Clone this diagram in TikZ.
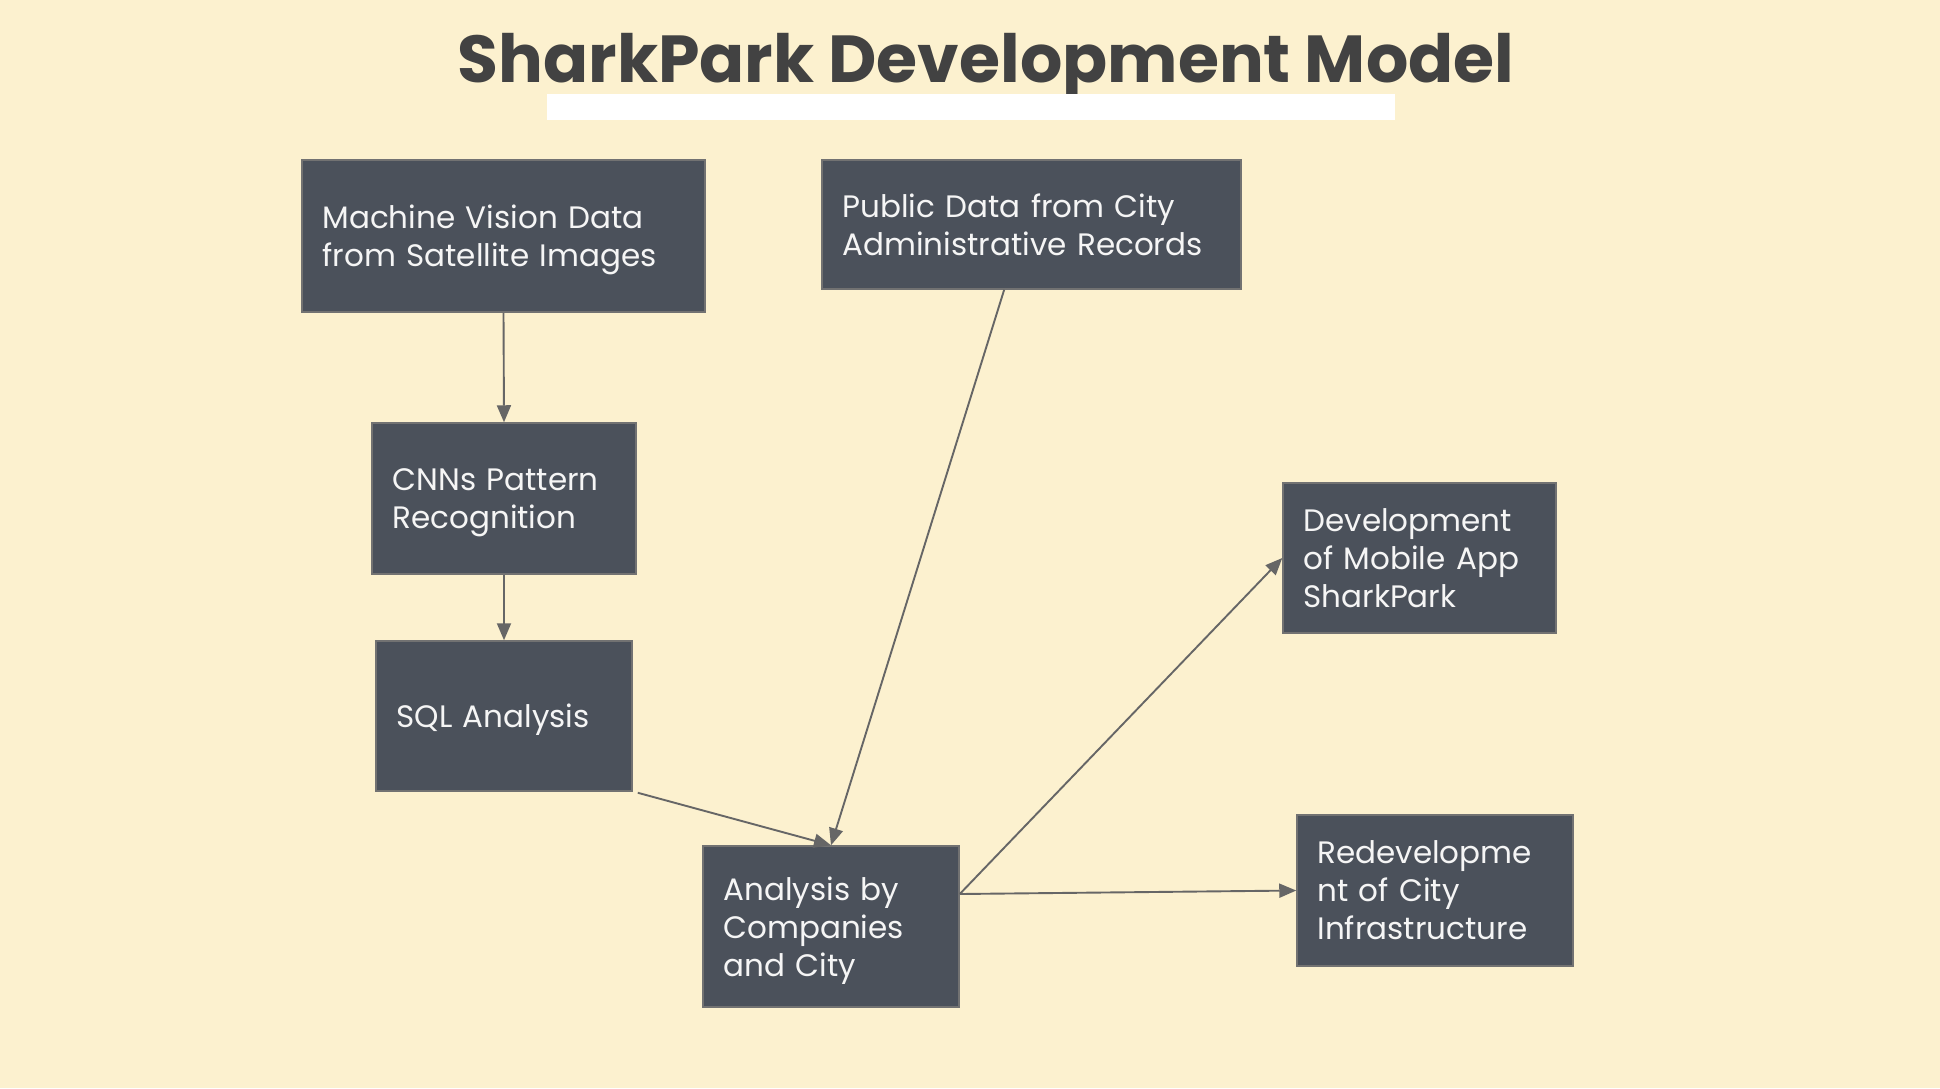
\documentclass[tikz,border=0pt]{standalone}
\usepackage{fontspec}
\setmainfont{Poppins}
\usetikzlibrary{arrows.meta,calc}
\definecolor{bgc}{HTML}{FCF1CF}
\definecolor{boxc}{HTML}{4B515B}
\definecolor{edgec}{HTML}{727272}
\definecolor{titlec}{HTML}{424242}
\definecolor{arrc}{HTML}{666666}
\newcommand{\nodesc}[1]{\raisebox{0pt}[\height][0pt]{#1}}
\tikzset{
  stepbox/.style={draw=edgec, line width=1.5pt, fill=boxc, text=white!96!black,
    align=left, inner xsep=20.5pt, inner ysep=0pt, anchor=center,
    font=\fontsize{31}{38}\selectfont},
  conn/.style={draw=arrc, line width=1.9pt, -{Triangle[length=17pt,width=14pt]}}
}
\begin{document}
\begin{tikzpicture}[x=1pt,y=-1pt]
\fill[bgc] (0,0) rectangle (1940,1088);
\useasboundingbox (0,0) rectangle (1940,1088);
\node[text=titlec, font=\fontsize{66.5}{80}\bfseries\selectfont, anchor=base] (title) at (986,82) {SharkPark Development Model};
\fill[white] (547,94) rectangle (1395,120);
\node[stepbox, text width=362pt, minimum height=152pt] (mv) at (503.5,236) {Machine Vision Data\\\nodesc{from Satellite Images}};
\node[stepbox, text width=378pt, minimum height=129pt] (pub) at (1031.5,224.5) {Public Data from City\\Administrative Records};
\node[stepbox, text width=223pt, minimum height=151pt] (cnn) at (504,498.5) {CNNs Pattern\\\nodesc{Recognition}};
\node[stepbox, text width=215pt, minimum height=150pt] (sql) at (504,716) {\nodesc{SQL Analysis}};
\node[stepbox, text width=215pt, minimum height=161pt] (ana) at (831,926.5) {Analysis by\\Companies\\\nodesc{and City}};
\node[stepbox, text width=232pt, minimum height=150pt] (dev) at (1419.5,558) {Development\\of Mobile App\\SharkPark};
\node[stepbox, text width=235pt, minimum height=151pt] (red) at (1435,890.5) {Redevelopme\\nt of City\\Infrastructure};
\coordinate (pubout) at ($(pub.south west)!0.435!(pub.south east)$);
\coordinate (anaout) at ($(ana.east)+(0,-32.5)$);
\coordinate (sqlout) at ($(sql.south east)+(5,1)$);
\draw[conn] (mv.south) -- (cnn.north);
\draw[conn] (cnn.south) -- (sql.north);
\draw[conn] (sqlout) -- (ana.north);
\draw[conn] (pubout) -- (ana.north);
\draw[conn] (anaout) -- (dev.west);
\draw[conn] (anaout) -- (red.west);
\end{tikzpicture}
\end{document}
